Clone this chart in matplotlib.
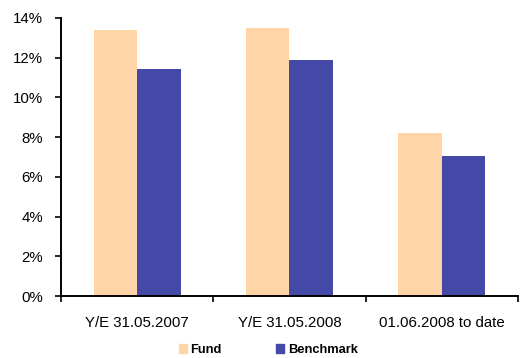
import numpy as np
import matplotlib.pyplot as plt
from matplotlib.ticker import FuncFormatter, FixedLocator
from matplotlib.patches import Patch

plt.rcParams['font.family'] = ['Liberation Sans', 'DejaVu Sans']

categories = ['Y/E 31.05.2007', 'Y/E 31.05.2008', '01.06.2008 to date']
fund = [13.4, 13.5, 8.23]
benchmark = [11.45, 11.88, 7.05]

fund_color = '#FFD5A8'
bench_color = '#4449A8'

fig = plt.figure(figsize=(5.21, 3.58), dpi=100)
ax = fig.add_axes([0.117, 0.173, 0.877, 0.777])

x = np.arange(len(categories))
w = 0.285
ax.bar(x - w / 2, fund, w, color=fund_color, label='Fund')
ax.bar(x + w / 2, benchmark, w, color=bench_color, label='Benchmark')

ax.set_xlim(-0.5, len(categories) - 0.5)
ax.set_ylim(0, 14)
ax.set_yticks(np.arange(0, 15, 2))
ax.yaxis.set_major_formatter(FuncFormatter(lambda v, p: f'{v:.0f}%'))

# category labels sit between the boundary ticks
ax.set_xticks(x)
ax.set_xticklabels(categories)
ax.tick_params(axis='x', which='major', length=0, pad=14, labelsize=10.8)
ax.xaxis.set_minor_locator(FixedLocator(np.arange(-0.5, len(categories), 1)))
ax.tick_params(axis='x', which='minor', length=4, width=1.2, direction='out')
ax.tick_params(axis='y', length=4, width=1.2, direction='out', labelsize=10.8, pad=9)

for s in ['top', 'right']:
    ax.spines[s].set_visible(False)
for s in ['left', 'bottom']:
    ax.spines[s].set_linewidth(1.4)

handles = [Patch(color=fund_color, label='Fund'),
           Patch(color=bench_color, label='Benchmark')]
fig.legend(handles=handles, loc='center', bbox_to_anchor=(0.515, 0.022),
           ncol=2, frameon=False, prop={'weight': 'bold', 'size': 9.3},
           handlelength=0.6, handleheight=0.6, handletextpad=0.3,
           columnspacing=4.2)

fig.savefig('out.png', dpi=100)
